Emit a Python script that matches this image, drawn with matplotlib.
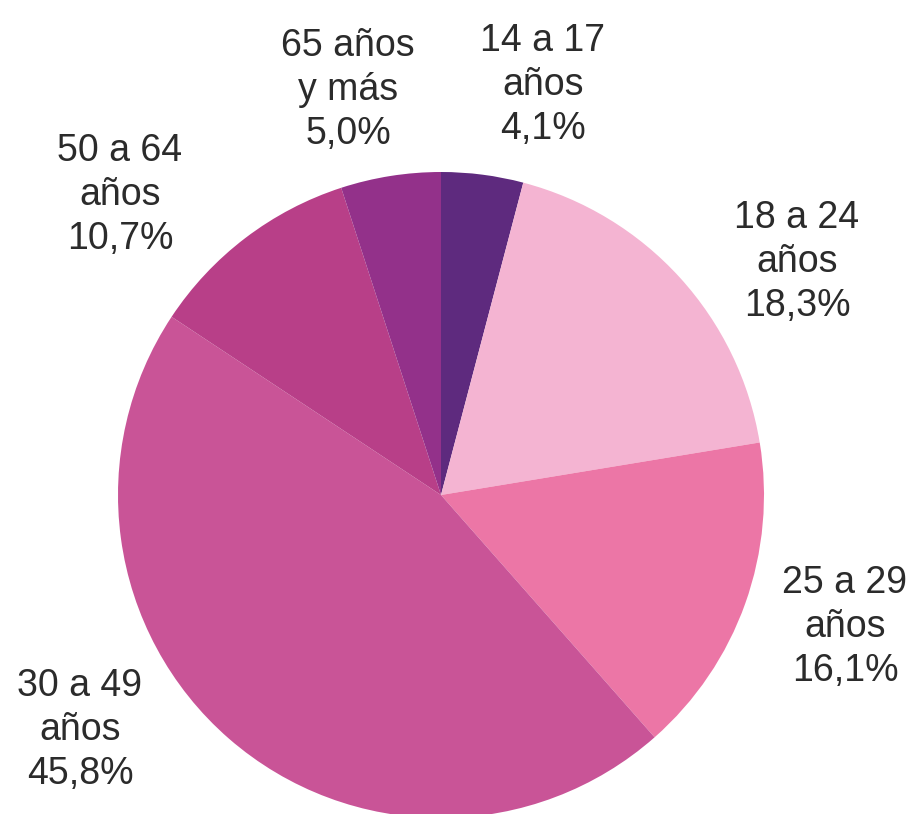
import matplotlib
matplotlib.use('Agg')
import matplotlib.pyplot as plt

labels = ['14 a 17\naños', '18 a 24\naños', '25 a 29\naños', '30 a 49\naños', '50 a 64\naños', '65 años\ny más']
values = [4.1, 18.3, 16.1, 45.8, 10.7, 5.0]
colors = ['#5e2a7e', '#f4b4d2', '#ec76a6', '#c95497', '#b83f88', '#93318a']

# label centres in pixels (from top-left)
label_pos = [(543, 85), (797, 262), (845, 627), (80, 730), (120, 195), (348, 90)]

fig = plt.figure(figsize=(9.2, 8.14), dpi=100)
ax = fig.add_axes([0, 0, 1, 1])
ax.set_xlim(0, 920)
ax.set_ylim(0, 814)
ax.set_aspect('equal')
ax.axis('off')

ax.pie(values, colors=colors, startangle=90, counterclock=False,
       center=(441, 814 - 495), radius=323,
       wedgeprops=dict(linewidth=0))

for lab, v, (x, y) in zip(labels, values, label_pos):
    txt = lab + '\n' + ('%.1f' % v).replace('.', ',') + '%'
    ax.text(x, 814 - y, txt, ha='center', va='center', fontsize=27,
            family='Liberation Sans', color='#2b2b2b', linespacing=1.28)

ax.set_xlim(0, 920)
ax.set_ylim(0, 814)
fig.savefig('out.png', dpi=100)
